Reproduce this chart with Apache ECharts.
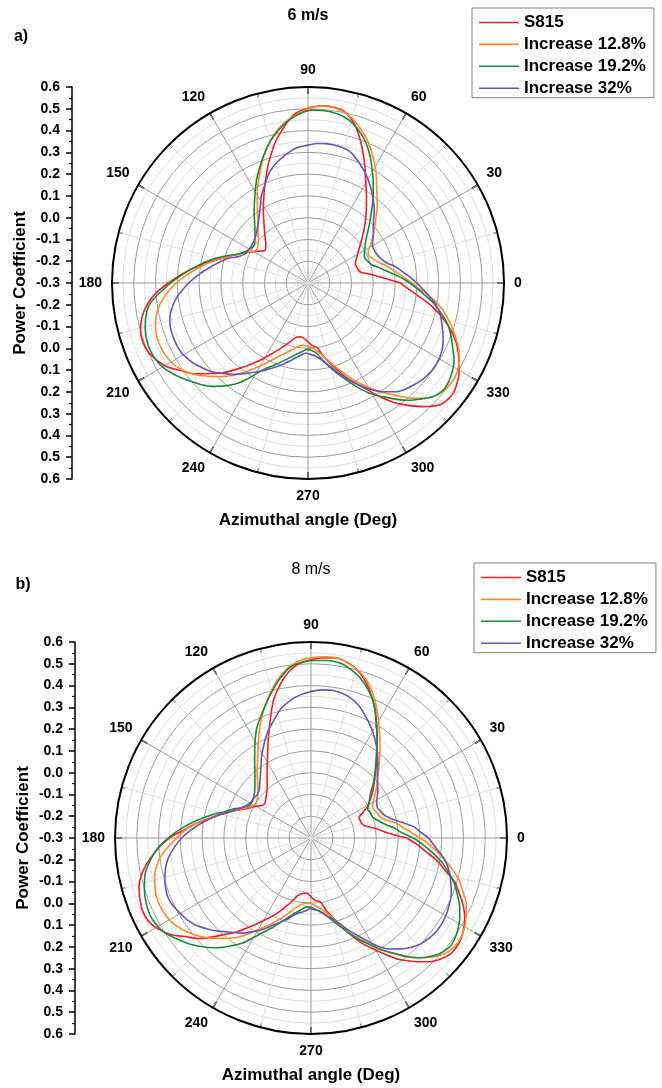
<!DOCTYPE html>
<html>
<head>
<meta charset="utf-8">
<script src="https://cdn.jsdelivr.net/npm/echarts@6/dist/echarts.min.js"></script>
<style>
  html, body { margin: 0; padding: 0; background: #fff; }
  #chart { width: 662px; height: 1088px; }
</style>
</head>
<body>
<div id="chart"></div>
<script>
// Radial scale of both polar plots (power coefficient, centre to rim)
const cpMin = -0.3;
const cpMax = 0.6;
const cpStep = 0.1;

// Tick labels of the vertical scale beside each polar plot (top to bottom)
const radialTickLabels = ['0.6', '0.5', '0.4', '0.3', '0.2', '0.1', '0.0', '-0.1', '-0.2', '-0.3',
  '-0.2', '-0.1', '0.0', '0.1', '0.2', '0.3', '0.4', '0.5', '0.6'];

// Azimuth tick labels (degrees)
const angleTickLabels = ['0', '30', '60', '90', '120', '150', '180', '210', '240', '270', '300', '330'];

const seriesNames = ['S815', 'Increase 12.8%', 'Increase 19.2%', 'Increase 32%'];
const seriesColors = ['#f0202a', '#ff8a2a', '#1c8a3e', '#6b53b3'];

// ---- 6 m/s : [azimuth (deg), power coefficient] ----
const cp6_S815 = [[0,0.125],[4,0.045],[8,-0.01],[12,-0.055],[17,-0.064],[22,-0.066],[27,-0.05],[32,-0.028],[38,0.01],[44,0.059],[50,0.115],[56,0.18],[61,0.245],[65,0.313],[70,0.4],[74,0.465],[78,0.505],[81,0.515],[85,0.517],[89,0.507],[95,0.474],[102,0.38],[106,0.315],[110,0.25],[116,0.16],[122,0.087],[127,0.035],[132,-0.004],[137,-0.035],[142,-0.052],[145,-0.045],[148,-0.025],[151,-0.005],[156,0.035],[162,0.088],[169,0.18],[177,0.295],[184,0.402],[190,0.466],[196,0.5],[200,0.505],[204,0.497],[210,0.46],[214,0.415],[219,0.363],[226,0.275],[233,0.18],[238,0.12],[243,0.063],[248,0.02],[254,-0.025],[258,-0.045],[262,-0.051],[266,-0.045],[270,-0.03],[274,-0.012],[278,0.0],[282,0.045],[287,0.101],[293,0.18],[299,0.26],[303,0.33],[307,0.395],[313,0.476],[317,0.522],[320,0.535],[323,0.537],[326,0.525],[329,0.509],[335,0.462],[342,0.387],[349,0.285],[356,0.17],[360,0.125]];
const cp6_Inc128 = [[0,0.175],[4,0.135],[8,0.1],[12,0.07],[16,0.04],[20,0.02],[24,0.006],[27,0.01],[30,0.026],[36,0.07],[42,0.115],[48,0.175],[54,0.237],[58,0.29],[62,0.343],[67,0.405],[71,0.447],[75,0.483],[79,0.506],[83,0.515],[86,0.514],[90,0.5],[96,0.462],[100,0.43],[104,0.385],[109,0.32],[113,0.26],[119,0.18],[125,0.105],[131,0.05],[136,0.018],[140,-0.003],[144,-0.015],[147,-0.02],[150,-0.01],[154,0.02],[158,0.053],[162,0.088],[168,0.16],[173,0.218],[178,0.28],[182,0.328],[189,0.394],[196,0.429],[203,0.438],[210,0.426],[215,0.4],[219,0.368],[223,0.328],[227,0.288],[231,0.245],[235,0.197],[240,0.14],[245,0.09],[250,0.05],[256,0.018],[260,0.0],[264,-0.012],[268,-0.012],[272,-0.005],[276,0.008],[280,0.03],[285,0.072],[290,0.125],[295,0.19],[300,0.253],[304,0.305],[308,0.355],[312,0.412],[316,0.46],[319,0.485],[323,0.5],[326,0.502],[329,0.498],[332,0.485],[335,0.466],[338,0.44],[342,0.401],[346,0.36],[350,0.315],[354,0.258],[358,0.2],[360,0.175]];
const cp6_Inc192 = [[0,0.168],[4,0.12],[8,0.072],[12,0.035],[16,0.005],[20,-0.008],[24,-0.015],[27,-0.01],[31,0.005],[35,0.022],[39,0.048],[44,0.093],[49,0.146],[53,0.197],[57,0.25],[61,0.305],[64,0.35],[68,0.402],[72,0.442],[76,0.472],[80,0.488],[85,0.495],[89,0.494],[93,0.477],[97,0.45],[101,0.413],[105,0.372],[110,0.31],[116,0.235],[121,0.173],[127,0.111],[132,0.066],[138,0.028],[142,0.01],[146,0.002],[150,0.01],[154,0.025],[158,0.05],[161,0.088],[166,0.152],[172,0.225],[177,0.29],[182,0.358],[188,0.437],[195,0.474],[202,0.488],[208,0.479],[212,0.46],[216,0.433],[221,0.395],[227,0.349],[231,0.308],[235,0.262],[239,0.2],[242,0.155],[248,0.105],[254,0.066],[260,0.035],[265,0.017],[269,0.005],[273,0.01],[277,0.025],[281,0.062],[286,0.115],[291,0.172],[295,0.225],[299,0.277],[304,0.332],[310,0.403],[316,0.46],[319,0.483],[322,0.492],[325,0.489],[328,0.479],[332,0.46],[335,0.435],[339,0.405],[343,0.374],[347,0.33],[351,0.282],[355,0.228],[360,0.168]];
const cp6_Inc32 = [[0,0.2],[4,0.162],[8,0.128],[11,0.105],[14,0.075],[18,0.055],[22,0.043],[26,0.04],[30,0.042],[36,0.07],[43,0.111],[48,0.155],[54,0.202],[58,0.235],[62,0.266],[67,0.3],[72,0.332],[77,0.343],[82,0.345],[86,0.342],[90,0.333],[95,0.322],[99,0.303],[104,0.275],[109,0.24],[113,0.2],[118,0.155],[123,0.105],[129,0.062],[135,0.033],[140,0.018],[145,0.012],[150,0.012],[154,0.015],[159,0.04],[163,0.085],[167,0.12],[170,0.147],[175,0.198],[180,0.248],[184,0.285],[187,0.312],[192,0.345],[196,0.36],[200,0.366],[205,0.367],[209,0.363],[213,0.35],[217,0.332],[222,0.305],[226,0.276],[231,0.24],[235,0.208],[241,0.165],[247,0.125],[253,0.09],[258,0.062],[263,0.038],[268,0.023],[272,0.028],[277,0.042],[281,0.066],[285,0.098],[289,0.14],[293,0.183],[297,0.23],[301,0.273],[305,0.31],[309,0.343],[312,0.36],[316,0.374],[320,0.388],[324,0.396],[328,0.397],[331,0.394],[335,0.383],[338,0.369],[342,0.348],[347,0.322],[351,0.29],[355,0.248],[360,0.2]];

// ---- 8 m/s : [azimuth (deg), power coefficient] ----
const cp8_S815 = [[0,0.14],[4,0.05],[8,0.005],[12,-0.04],[15,-0.056],[19,-0.06],[23,-0.061],[26,-0.035],[29,-0.005],[33,0.025],[38,0.062],[43,0.1],[48,0.148],[53,0.205],[58,0.272],[63,0.35],[68,0.425],[72,0.475],[75,0.503],[78,0.522],[82,0.535],[87,0.528],[91,0.515],[95,0.495],[98,0.465],[101,0.425],[105,0.36],[108,0.295],[113,0.2],[118,0.125],[123,0.07],[129,0.02],[134,-0.008],[140,-0.028],[143,-0.035],[146,-0.032],[150,-0.008],[155,0.02],[161,0.08],[165,0.125],[169,0.175],[173,0.235],[177,0.295],[180,0.35],[184,0.405],[190,0.475],[196,0.522],[202,0.541],[205,0.542],[208,0.535],[211,0.515],[215,0.477],[218,0.435],[222,0.39],[228,0.297],[232,0.245],[237,0.175],[241,0.128],[245,0.088],[251,0.025],[254,-0.003],[257,-0.028],[261,-0.042],[265,-0.046],[268,-0.04],[271,-0.025],[274,-0.012],[278,-0.005],[282,0.04],[287,0.1],[291,0.16],[295,0.225],[299,0.28],[303,0.34],[306,0.39],[310,0.44],[314,0.49],[317,0.515],[320,0.532],[323,0.535],[326,0.53],[329,0.517],[332,0.5],[336,0.466],[339,0.432],[343,0.39],[346,0.34],[350,0.285],[353,0.235],[356,0.195],[360,0.14]];
const cp8_Inc128 = [[0,0.2],[3,0.163],[6,0.13],[10,0.095],[14,0.05],[18,0.03],[21,0.025],[24,0.017],[27,0.017],[31,0.035],[35,0.062],[41,0.105],[47,0.157],[52,0.215],[57,0.278],[61,0.335],[65,0.395],[69,0.45],[73,0.49],[77,0.515],[81,0.533],[85,0.535],[88,0.531],[92,0.523],[96,0.503],[100,0.465],[104,0.415],[109,0.345],[114,0.272],[119,0.2],[124,0.138],[130,0.085],[135,0.045],[141,0.013],[145,0.003],[149,-0.002],[153,0.015],[158,0.052],[164,0.111],[168,0.165],[172,0.22],[176,0.275],[181,0.327],[187,0.395],[194,0.44],[201,0.46],[207,0.458],[211,0.448],[215,0.428],[219,0.4],[223,0.369],[227,0.33],[232,0.283],[236,0.237],[240,0.187],[245,0.135],[250,0.09],[254,0.055],[257,0.032],[261,0.013],[265,0.0],[269,-0.002],[273,0.01],[277,0.024],[281,0.047],[285,0.08],[289,0.13],[293,0.183],[297,0.233],[301,0.289],[304,0.33],[307,0.372],[310,0.415],[313,0.452],[316,0.485],[319,0.511],[323,0.527],[326,0.527],[330,0.516],[333,0.498],[337,0.475],[340,0.445],[344,0.408],[347,0.372],[350,0.33],[354,0.28],[358,0.23],[360,0.2]];
const cp8_Inc192 = [[0,0.17],[4,0.11],[7,0.084],[10,0.05],[14,0.022],[17,0.006],[20,-0.003],[24,-0.006],[27,-0.008],[31,0.01],[37,0.043],[42,0.087],[48,0.143],[53,0.2],[57,0.257],[61,0.315],[64,0.368],[68,0.42],[73,0.47],[77,0.497],[80,0.513],[85,0.518],[89,0.515],[93,0.508],[97,0.49],[101,0.446],[105,0.395],[110,0.332],[116,0.266],[121,0.2],[126,0.14],[132,0.085],[139,0.042],[143,0.027],[148,0.018],[152,0.02],[156,0.045],[160,0.085],[163,0.113],[167,0.17],[171,0.226],[175,0.285],[179,0.342],[183,0.395],[186,0.428],[192,0.478],[197,0.5],[200,0.51],[204,0.518],[207,0.519],[210,0.512],[213,0.5],[217,0.47],[222,0.433],[226,0.397],[230,0.358],[234,0.31],[237,0.275],[240,0.228],[243,0.187],[247,0.145],[251,0.105],[255,0.072],[258,0.052],[262,0.033],[266,0.017],[270,0.018],[274,0.03],[279,0.05],[283,0.077],[287,0.115],[291,0.16],[295,0.212],[299,0.26],[302,0.305],[306,0.355],[309,0.402],[312,0.44],[315,0.47],[318,0.494],[321,0.507],[323,0.51],[326,0.503],[329,0.49],[332,0.474],[335,0.454],[338,0.428],[342,0.394],[345,0.362],[349,0.317],[353,0.263],[357,0.21],[360,0.17]];
const cp8_Inc32 = [[0,0.24],[3.5,0.2],[6.5,0.172],[10,0.12],[14,0.075],[18,0.05],[22,0.04],[25,0.035],[29,0.045],[35,0.075],[43,0.116],[48,0.158],[53,0.205],[58,0.248],[62,0.282],[67,0.322],[71,0.352],[76,0.375],[82,0.385],[86,0.382],[90,0.373],[94,0.36],[98,0.342],[103,0.31],[107,0.272],[112,0.228],[116,0.188],[121,0.14],[126,0.092],[132,0.05],[137,0.025],[141,0.018],[146,0.02],[150,0.022],[154,0.035],[158,0.058],[162,0.09],[166,0.135],[172,0.205],[176,0.25],[180,0.294],[184,0.33],[188,0.362],[192,0.383],[196,0.398],[200,0.408],[203,0.411],[206,0.406],[209,0.396],[213,0.383],[217,0.364],[221,0.335],[225,0.305],[229,0.272],[234,0.24],[238,0.208],[242,0.176],[246,0.14],[251,0.105],[255,0.08],[258,0.06],[262,0.045],[266,0.035],[269,0.025],[273,0.03],[277,0.04],[281,0.062],[287,0.1],[291,0.143],[295,0.19],[299,0.243],[302,0.288],[305,0.322],[309,0.355],[312,0.378],[316,0.4],[320,0.412],[323,0.418],[327,0.418],[331,0.413],[334,0.405],[338,0.395],[342,0.375],[346,0.356],[351,0.32],[355,0.28],[360,0.24]];

const panelData = [
  [cp6_S815, cp6_Inc128, cp6_Inc192, cp6_Inc32],
  [cp8_S815, cp8_Inc128, cp8_Inc192, cp8_Inc32]
];

const FONT = 'Arial, "Liberation Sans", sans-serif';

// Layout of the two panels
const panels = [
  { cx: 308, cy: 283, r: 196, axisX: 72, title: '6 m/s', titleBold: true, titleY: 16, tag: 'a)', tagX: 21, tagY: 37, legendX: 472, legendY: 8 },
  { cx: 311, cy: 838, r: 196, axisX: 75, title: '8 m/s', titleBold: false, titleY: 570, tag: 'b)', tagX: 23, tagY: 585, legendX: 474, legendY: 563 }
];

const polar = [], angleAxis = [], radiusAxis = [], grid = [], xAxis = [], yAxis = [], legend = [], series = [], graphic = [];

panels.forEach(function (p, i) {
  polar.push({ center: [p.cx, p.cy], radius: p.r });

  angleAxis.push({
    polarIndex: i, type: 'value', min: 0, max: 360, interval: 30,
    startAngle: 0, clockwise: false,
    axisLine: { lineStyle: { color: '#000', width: 2 } },
    axisTick: { show: true, inside: true, length: 7, lineStyle: { color: '#000', width: 1.5 } },
    minorTick: { show: true, splitNumber: 2, length: 4, lineStyle: { color: '#000', width: 1.2 } },
    axisLabel: {
      margin: 10, color: '#000', fontSize: 14, fontWeight: 'bold', fontFamily: FONT,
      formatter: function (v) { return angleTickLabels[Math.round(v / 30) % 12]; }
    },
    splitLine: { show: true, lineStyle: { color: '#9c9c9c', width: 1 } },
    minorSplitLine: { show: true, lineStyle: { color: '#dedede', width: 1 } }
  });

  radiusAxis.push({
    polarIndex: i, type: 'value', min: cpMin, max: cpMax, interval: cpStep,
    axisLine: { show: false }, axisTick: { show: false }, axisLabel: { show: false },
    minorTick: { show: false, splitNumber: 2 },
    splitLine: { show: true, lineStyle: { color: '#9c9c9c', width: 1 } },
    minorSplitLine: { show: true, lineStyle: { color: '#dedede', width: 1 } }
  });

  // Vertical scale beside the polar plot: rim -> centre -> rim
  grid.push({ left: p.axisX, top: p.cy - p.r, width: 1, height: 2 * p.r });
  xAxis.push({ gridIndex: i, type: 'value', show: false });
  const span = cpMax - cpMin;
  yAxis.push({
    gridIndex: i, type: 'value', min: -span, max: span, interval: cpStep,
    position: 'left',
    axisLine: { show: true, lineStyle: { color: '#000', width: 1.5 } },
    axisTick: { show: true, length: 6, lineStyle: { color: '#000', width: 1.5 } },
    minorTick: { show: true, splitNumber: 2, length: 3, lineStyle: { color: '#000', width: 1.2 } },
    splitLine: { show: false },
    axisLabel: {
      margin: 12, color: '#000', fontSize: 14, fontWeight: 'bold', fontFamily: FONT,
      formatter: function (v) { return radialTickLabels[Math.round((span - v) / cpStep)]; }
    },
    name: 'Power Coefficient', nameLocation: 'middle', nameGap: 43, nameRotate: 90,
    nameTextStyle: { color: '#000', fontSize: 17, fontWeight: 'bold', fontFamily: FONT }
  });

  legend.push({
    orient: 'vertical', left: p.legendX, top: p.legendY,
    data: seriesNames,
    icon: 'rect',
    itemWidth: 40, itemHeight: 1.6, itemGap: 4.9,
    padding: [6, 8, 1, 7],
    borderColor: '#808080', borderWidth: 1, backgroundColor: '#fff',
    selectedMode: false,
    textStyle: { color: '#000', fontSize: 17, fontWeight: 'bold', fontFamily: FONT }
  });

  panelData[i].forEach(function (pts, k) {
    series.push({
      name: seriesNames[k], type: 'line', coordinateSystem: 'polar', polarIndex: i,
      data: pts.map(function (d) { return [d[1], d[0]]; }),
      smooth: 0.3, symbol: 'none', animation: false,
      lineStyle: { color: seriesColors[k], width: 1.6 },
      itemStyle: { color: seriesColors[k] }
    });
  });

  graphic.push(
    { type: 'text', x: p.cx, y: p.titleY, style: { text: p.title, font: (p.titleBold ? 'bold ' : '') + '16px ' + FONT, fill: '#000', align: 'center', verticalAlign: 'middle' } },
    { type: 'text', x: p.tagX, y: p.tagY, style: { text: p.tag, font: 'bold 16px ' + FONT, fill: '#000', align: 'center', verticalAlign: 'middle' } },
    { type: 'text', x: p.cx, y: p.cy + p.r + 41, style: { text: 'Azimuthal angle (Deg)', font: 'bold 17px ' + FONT, fill: '#000', align: 'center', verticalAlign: 'middle' } }
  );
});

const chart = echarts.init(document.getElementById('chart'), null, { renderer: 'canvas' });
chart.setOption({
  backgroundColor: '#fff',
  animation: false,
  polar: polar, angleAxis: angleAxis, radiusAxis: radiusAxis,
  grid: grid, xAxis: xAxis, yAxis: yAxis,
  legend: legend, series: series, graphic: graphic
});
</script>
</body>
</html>
